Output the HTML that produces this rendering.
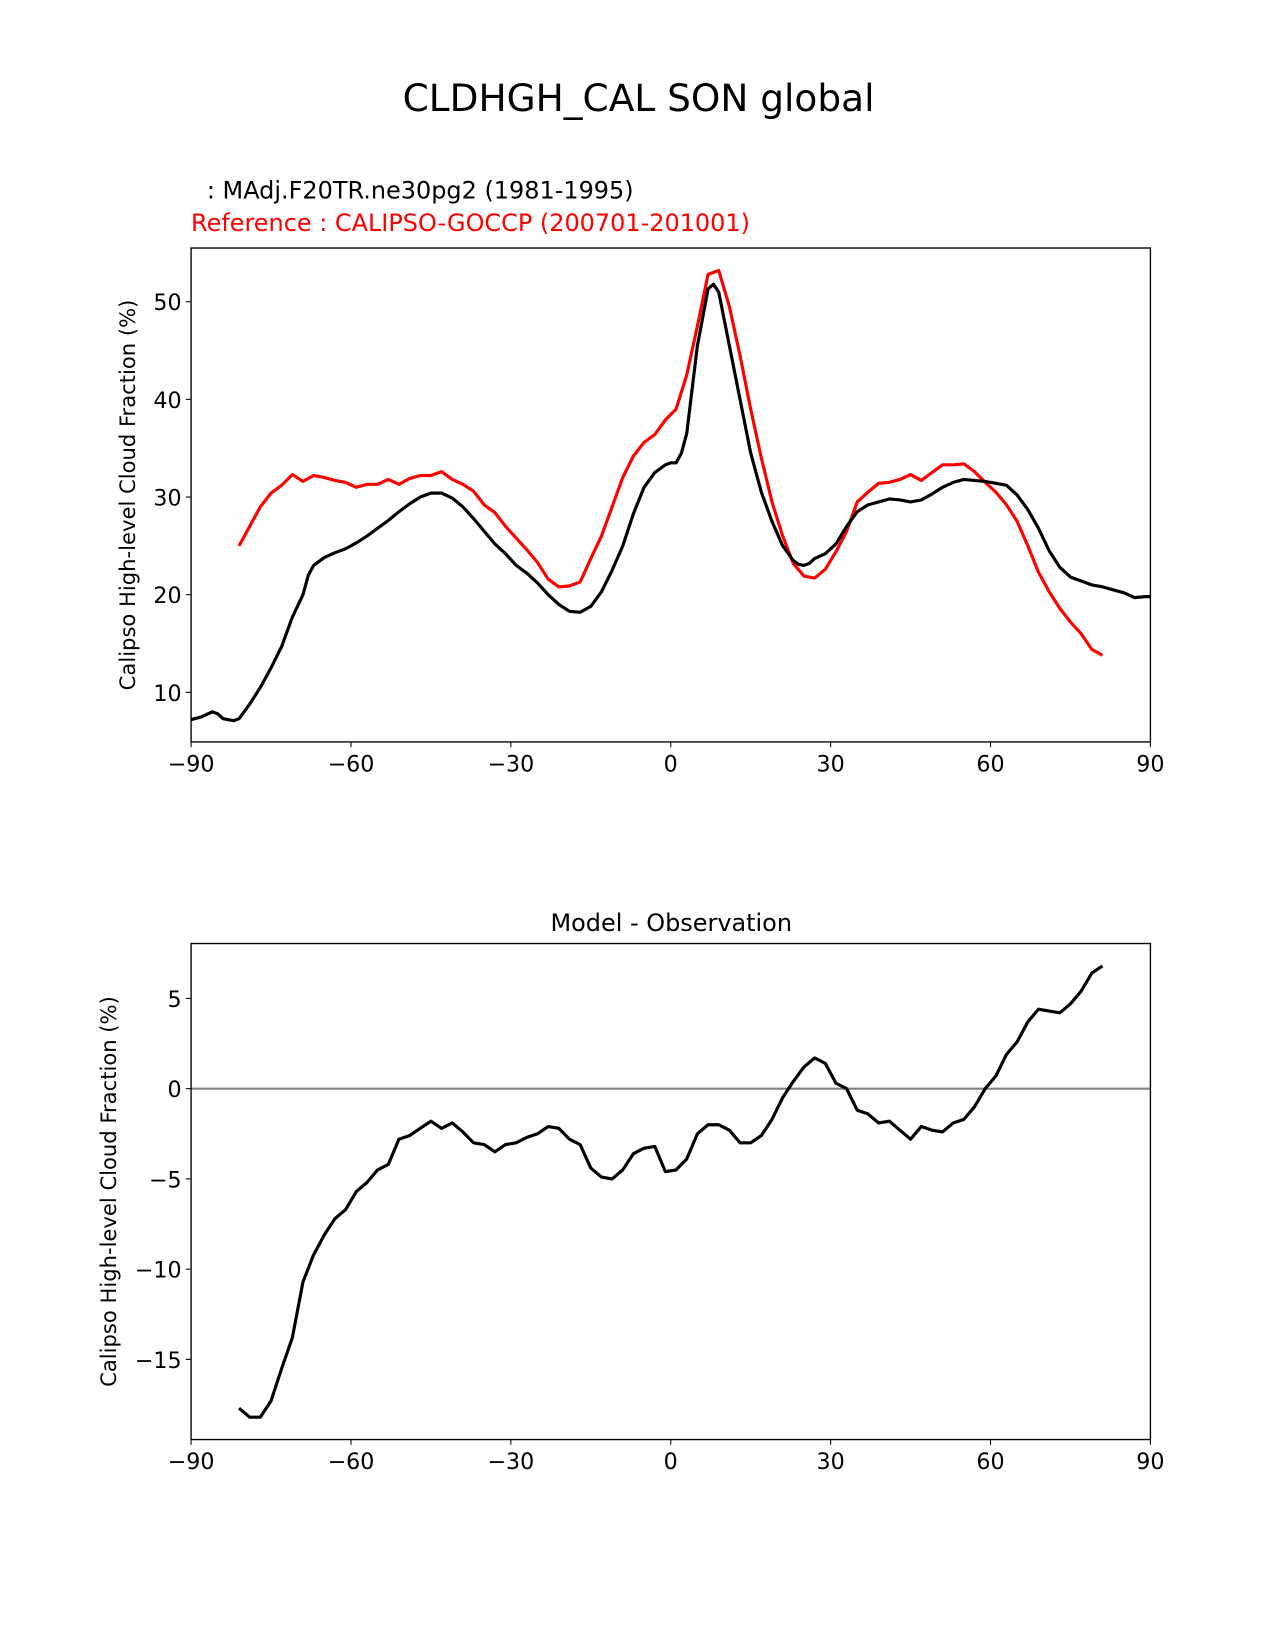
<!DOCTYPE html>
<html><head><meta charset="utf-8"><style>html,body{margin:0;padding:0;background:#fff}svg{display:block}text{font-family:"DejaVu Sans","Liberation Sans",sans-serif}</style></head>
<body>
<svg id="fig" width="1275" height="1650" viewBox="0 0 1208 1563.4" xmlns="http://www.w3.org/2000/svg">
<rect width="1208" height="1563.4" fill="#fff"/>
<text x="605" y="105" font-size="35.5" text-anchor="middle">CLDHGH_CAL SON global</text>
<text x="196" y="188" font-size="22.7">: MAdj.F20TR.ne30pg2 (1981-1995)</text>
<text x="181" y="219" font-size="22.7" fill="#ff0000">Reference : CALIPSO-GOCCP (200701-201001)</text>
<text x="636" y="882" font-size="22.7" text-anchor="middle">Model - Observation</text>
<g id="topplot"></g>
<g id="botplot"></g>
</svg>
<script>
const latModel=[-90,-88,-86,-85,-84,-82,-81,-79,-77,-75,-73,-71,-69,-68,-67,-65,-63,-61,-59,-57,-55,-53,-51,-49,-47,-45,-43,-41,-39,-37,-35,-33,-31,-29,-27,-25,-23,-21,-19,-17,-15,-13,-11,-9,-7,-5,-3,-1,0,1,2,3,4,5,7,8,9,11,13,15,17,19,21,23,24,25,26,27,29,31,33,35,37,39,41,43,45,47,49,51,53,55,57,59,61,63,65,67,69,71,73,75,77,79,81,83,85,87,89,90];
const modelVals=[7.2,7.5,8.0,7.8,7.3,7.1,7.3,8.8,10.5,12.5,14.7,17.7,20.0,22.0,23.0,23.8,24.3,24.7,25.3,26.0,26.8,27.6,28.5,29.3,30.0,30.4,30.4,29.9,29.0,27.8,26.5,25.2,24.2,23.0,22.2,21.2,20.0,19.0,18.3,18.2,18.8,20.3,22.5,25.0,28.3,31.0,32.5,33.3,33.5,33.5,34.5,36.5,41.0,45.5,51.3,51.8,51.0,45.5,40.0,34.5,30.5,27.5,25.0,23.5,23.1,23.0,23.2,23.7,24.2,25.2,27.0,28.5,29.2,29.5,29.8,29.7,29.5,29.7,30.3,31.0,31.5,31.8,31.7,31.6,31.4,31.2,30.2,28.7,26.8,24.5,22.8,21.8,21.4,21.0,20.8,20.5,20.2,19.7,19.8,19.8];
const latObs=[-81,-79,-77,-75,-73,-71,-69,-67,-65,-63,-61,-59,-57,-55,-53,-51,-49,-47,-45,-43,-41,-39,-37,-35,-33,-31,-29,-27,-25,-23,-21,-19,-17,-15,-13,-11,-9,-7,-5,-3,-1,1,3,5,7,9,11,13,15,17,19,21,23,25,27,29,31,33,35,37,39,41,43,45,47,49,51,53,55,57,59,61,63,65,67,69,71,73,75,77,79,81];
const obsVals=[25.0,27.0,29.0,30.4,31.2,32.3,31.6,32.2,32.0,31.7,31.5,31.0,31.3,31.3,31.8,31.3,31.9,32.2,32.2,32.6,31.8,31.3,30.6,29.2,28.4,27.0,25.8,24.6,23.3,21.6,20.8,20.9,21.3,23.7,26.0,29.0,32.0,34.2,35.6,36.4,37.9,39.0,42.5,47.5,52.8,53.2,49.5,44.5,39.0,34.0,29.5,26.0,23.2,21.9,21.7,22.6,24.4,26.5,29.5,30.5,31.4,31.5,31.8,32.3,31.7,32.5,33.3,33.3,33.4,32.6,31.5,30.5,29.2,27.5,25.0,22.3,20.3,18.6,17.2,16.0,14.4,13.8];
const diffVals=[-17.7,-18.2,-18.2,-17.3,-15.5,-13.8,-10.7,-9.2,-8.1,-7.2,-6.7,-5.7,-5.2,-4.5,-4.2,-2.8,-2.6,-2.2,-1.8,-2.2,-1.9,-2.4,-3.0,-3.1,-3.5,-3.1,-3.0,-2.7,-2.5,-2.1,-2.2,-2.8,-3.1,-4.4,-4.9,-5.0,-4.5,-3.6,-3.3,-3.2,-4.6,-4.5,-3.9,-2.5,-2.0,-2.0,-2.3,-3.0,-3.0,-2.6,-1.7,-0.5,0.4,1.2,1.7,1.4,0.3,0.0,-1.2,-1.4,-1.9,-1.8,-2.3,-2.8,-2.1,-2.3,-2.4,-1.9,-1.7,-1.0,0.0,0.7,1.9,2.6,3.7,4.4,4.3,4.2,4.7,5.4,6.4,6.8];
const xTicks=[-90,-60,-30,0,30,60,90];
const xTickLabels=["\u221290","\u221260","\u221230","0","30","60","90"];
const topYTicks=[10,20,30,40,50];
const botYTicks=[-15,-10,-5,0,5];
const botYTickLabels=["\u221215","\u221210","\u22125","0","5"];
const NS="http://www.w3.org/2000/svg";
function mk(p,t,a){const e=document.createElementNS(NS,t);for(const k in a)e.setAttribute(k,a[k]);p.appendChild(e);return e;}
const L=181,R=1090;
const xs=v=>L+(v+90)/180*(R-L);
function axes(g,T,B,y0,y1,yt,ytl,ylabel,ylx){
  const ys=v=>B-(v-y0)/(y1-y0)*(B-T);
  xTicks.forEach((t,i)=>{
    const tk=mk(g,'line',{x1:xs(t),x2:xs(t),y1:B,y2:B+5,stroke:'#000','stroke-width':1});
    
    
    const tl=mk(g,'text',{x:xs(t),y:B+28,'font-size':21,'text-anchor':'middle'});tl.textContent=xTickLabels[i];
    
    
  });
  yt.forEach((t,i)=>{
    const tk=mk(g,'line',{x1:L-5,x2:L,y1:ys(t),y2:ys(t),stroke:'#000','stroke-width':1});
    
    
    const tl=mk(g,'text',{x:L-9,y:ys(t)+8,'font-size':21,'text-anchor':'end'});tl.textContent=ytl[i];
    
    
  });
  const yl=mk(g,'text',{x:ylx,y:(T+B)/2,'font-size':20,'text-anchor':'middle',transform:`rotate(-90 ${ylx} ${(T+B)/2})`});
  yl.textContent=ylabel;
  
  
  return ys;
}
function line(g,xa,ya,ys,col,name){
  const p=mk(g,'polyline',{points:xa.map((x,i)=>xs(x)+','+ys(ya[i])).join(' '),fill:'none',stroke:col,'stroke-width':3,'stroke-linejoin':'round'});
  
  
}
const topG=document.getElementById('topplot');
const ysT=axes(topG,235,703,4.92,55.5,topYTicks,topYTicks.map(String),'Calipso High-level Cloud Fraction (%)',128);
const cp=mk(topG,'clipPath',{id:'ct'});mk(cp,'rect',{x:L,y:235,width:R-L,height:468});
const tg=mk(topG,'g',{'clip-path':'url(#ct)'});
line(tg,latObs,obsVals,ysT,'#ff0000','obs-line');
line(tg,latModel,modelVals,ysT,'#000','model-line');
const f1=mk(topG,'rect',{x:L,y:235,width:R-L,height:468,fill:'none',stroke:'#000','stroke-width':1.3});


const botG=document.getElementById('botplot');
const ysB=axes(botG,894,1364,-19.44,8.04,botYTicks,botYTickLabels,'Calipso High-level Cloud Fraction (%)',110);
const zl=mk(botG,'line',{x1:L,x2:R,y1:ysB(0),y2:ysB(0),stroke:'#808080','stroke-width':2});


line(botG,latObs,diffVals,ysB,'#000','difference-line');
const f2=mk(botG,'rect',{x:L,y:894,width:R-L,height:470,fill:'none',stroke:'#000','stroke-width':1.3});


</script>
</body></html>
